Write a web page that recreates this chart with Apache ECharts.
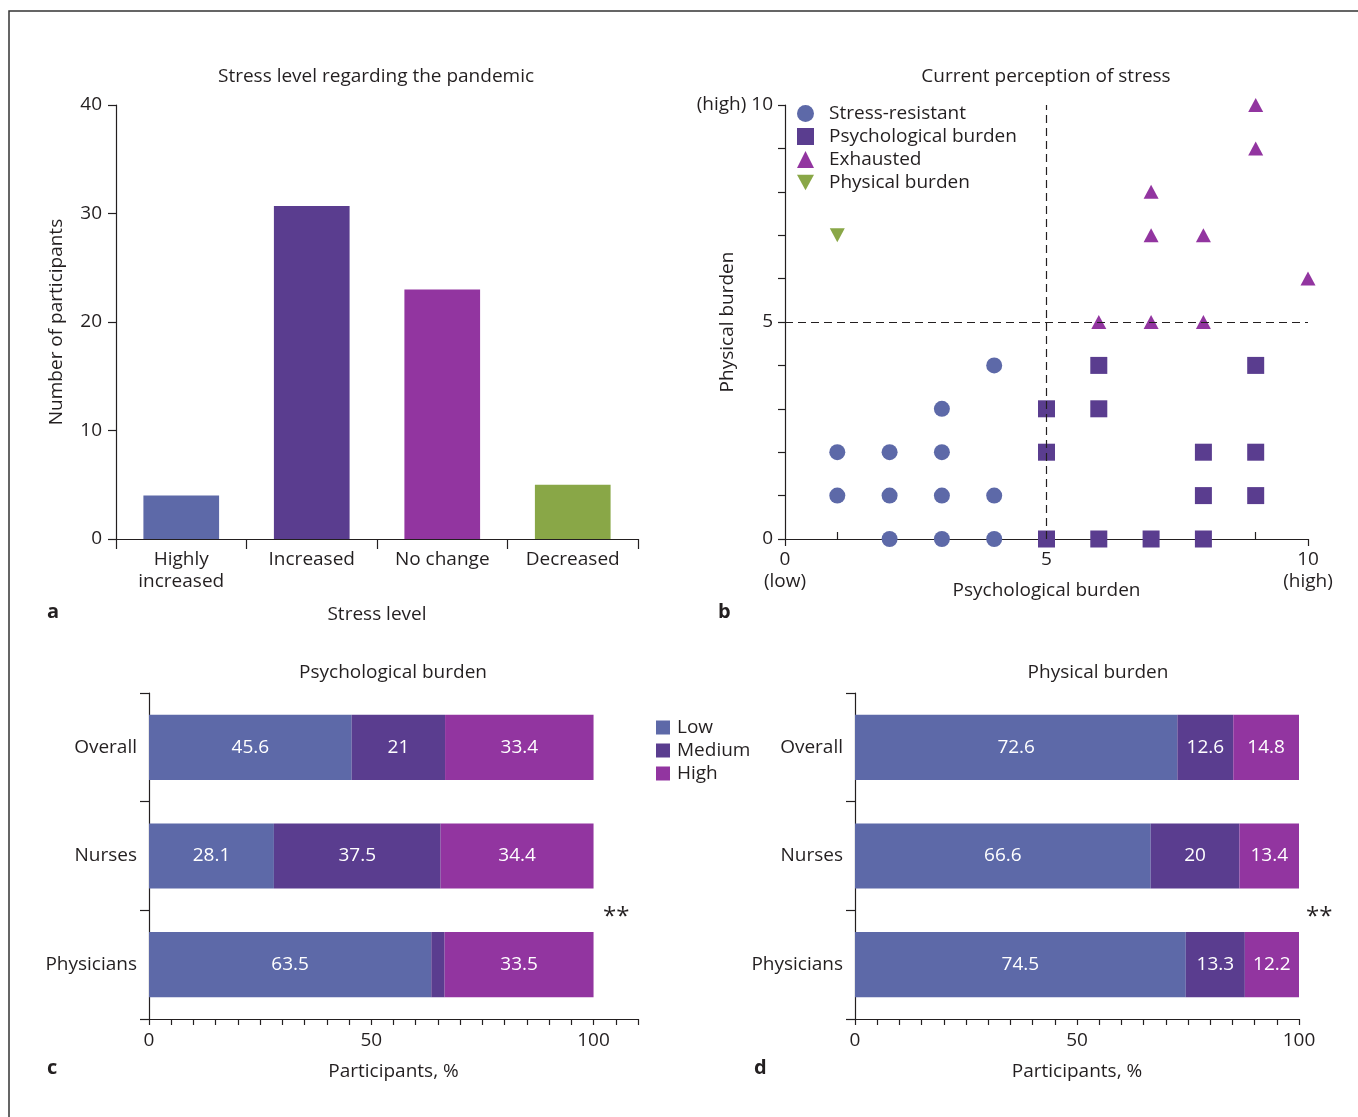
<!DOCTYPE html>
<html>
<head>
<meta charset="utf-8">
<script src="https://cdn.jsdelivr.net/npm/echarts@6/dist/echarts.min.js"></script>
<style>
html,body{margin:0;padding:0;background:#fff;}
#chart{width:1358px;height:1117px;}
</style>
</head>
<body>
<div id="chart"></div>
<script>
// ---- Data ----
const stressCats = ['Highly\nincreased', 'Increased', 'No change', 'Decreased'];
const stressCounts = [4, 30.7, 23, 5];

const stressResistant = [[1,2],[1,1],[2,2],[2,1],[2,0],[3,3],[3,2],[3,1],[3,0],[4,4],[4,1],[4,0]];
const psychBurdenPts = [[5,3],[5,2],[5,0],[6,4],[6,3],[6,0],[7,0],[8,2],[8,1],[8,0],[9,4],[9,2],[9,1]];
const exhaustedPts = [[9,10],[9,9],[7,8],[7,7],[8,7],[10,6],[6,5],[7,5],[8,5]];
const physBurdenPts = [[1,7]];

const groups = ['Overall', 'Nurses', 'Physicians'];
const psychLow = [45.6, 28.1, 63.5];
const psychMed = [21, 37.5, 3];
const psychHigh = [33.4, 34.4, 33.5];
const physLow = [72.6, 66.6, 74.5];
const physMed = [12.6, 20, 13.3];
const physHigh = [14.8, 13.4, 12.2];

// ---- Styles ----
const C_BLUE = '#5d69a8', C_PURPLE = '#5a3d8f', C_MAGENTA = '#9235a0', C_GREEN = '#89a747';
const stressColors = [C_BLUE, C_PURPLE, C_MAGENTA, C_GREEN];
const TXT = '#231f20';
const FONT = 'Open Sans';
const FS = 19;

const axisLine = {show: true, lineStyle: {color: TXT, width: 1.2}};
const tick = (len, inside) => ({show: true, length: len, inside: !!inside, lineStyle: {color: TXT, width: 1.2}});
const lbl = (extra) => Object.assign({color: TXT, fontFamily: FONT, fontSize: FS}, extra || {});
const nameStyle = {color: TXT, fontFamily: FONT, fontSize: FS};

const chart = echarts.init(document.getElementById('chart'));

function barLabel(v) { return v.value >= 5 ? String(v.value) : ''; }
const innerLabel = {show: true, position: 'inside', color: '#fff', fontFamily: FONT, fontSize: FS, formatter: barLabel};

function hbarSeries(name, data, color, xi, yi) {
  return {
    type: 'bar', name: name, data: data, stack: 'st' + xi, xAxisIndex: xi, yAxisIndex: yi,
    barWidth: '60%', itemStyle: {color: color}, label: innerLabel, emphasis: {disabled: true}
  };
}

const titleStyle = {fontWeight: 'normal', fontSize: FS, color: TXT, fontFamily: FONT};

const option = {
  animation: false,
  textStyle: {fontFamily: FONT, color: TXT},
  title: [
    {text: 'Stress level regarding the pandemic', left: 376, top: 67, textAlign: 'center', padding: 0, textStyle: titleStyle},
    {text: 'Current perception of stress', left: 1046, top: 67, textAlign: 'center', padding: 0, textStyle: titleStyle},
    {text: 'Psychological burden', left: 393, top: 663, textAlign: 'center', padding: 0, textStyle: titleStyle},
    {text: 'Physical burden', left: 1098, top: 663, textAlign: 'center', padding: 0, textStyle: titleStyle}
  ],
  legend: [
    {
      data: ['Stress-resistant', 'Psychological burden', 'Exhausted', 'Physical burden'],
      orient: 'vertical', left: 797, top: 104, padding: 0, itemGap: 4, itemWidth: 17, itemHeight: 17,
      textStyle: {color: TXT, fontFamily: FONT, fontSize: FS, padding: [0, 0, 0, 10]},
      selectedMode: false
    },
    {
      data: ['Low', 'Medium', 'High'],
      orient: 'vertical', left: 656, top: 718, padding: 0, itemGap: 4, itemWidth: 14, itemHeight: 14,
      icon: 'rect',
      textStyle: {color: TXT, fontFamily: FONT, fontSize: FS, padding: [0, 0, 0, 2]},
      selectedMode: false
    }
  ],
  grid: [
    {left: 116, width: 522, top: 105, height: 434},
    {left: 785, width: 523, top: 105, height: 434},
    {left: 149, width: 489, top: 693, height: 326},
    {left: 855, width: 444, top: 693, height: 326}
  ],
  xAxis: [
    {
      gridIndex: 0, type: 'category', data: stressCats,
      axisLine: axisLine, axisTick: tick(10),
      axisLabel: lbl({interval: 0, lineHeight: 22, margin: 10}),
      name: 'Stress level', nameLocation: 'middle', nameGap: 66, nameMoveOverlap: false, nameTextStyle: nameStyle
    },
    {
      gridIndex: 1, type: 'value', min: 0, max: 10, interval: 1, position: 'bottom',
      axisLine: axisLine, axisTick: Object.assign(tick(7), {customValues: [0, 5, 10]}),
      splitLine: {show: false},
      axisLabel: lbl({customValues: [0, 5, 10], lineHeight: 22, margin: 10,
        formatter: v => v === 0 ? '0\n(low)' : (v === 10 ? '10\n(high)' : String(v))}),
      name: 'Psychological burden', nameLocation: 'middle', nameGap: 42, nameMoveOverlap: false, nameTextStyle: nameStyle
    },
    {
      gridIndex: 2, type: 'value', min: 0, max: 110, interval: 5,
      axisLine: axisLine, axisTick: tick(6), splitLine: {show: false},
      axisLabel: lbl({customValues: [0, 50, 100], margin: 12}),
      name: 'Participants, %', nameLocation: 'middle', nameGap: 43, nameMoveOverlap: false, nameTextStyle: nameStyle
    },
    {
      gridIndex: 3, type: 'value', min: 0, max: 100, interval: 5,
      axisLine: axisLine, axisTick: tick(6), splitLine: {show: false},
      axisLabel: lbl({customValues: [0, 50, 100], margin: 12}),
      name: 'Participants, %', nameLocation: 'middle', nameGap: 43, nameMoveOverlap: false, nameTextStyle: nameStyle
    },
    {
      gridIndex: 1, type: 'value', min: 0, max: 10, interval: 1, position: 'bottom', offset: 0,
      axisLine: {show: false}, axisTick: Object.assign(tick(7, true), {customValues: [1, 9]}),
      axisLabel: {show: false}, splitLine: {show: false}
    }
  ],
  yAxis: [
    {
      gridIndex: 0, type: 'value', min: 0, max: 40, interval: 10,
      axisLine: axisLine, axisTick: tick(8), splitLine: {show: false},
      axisLabel: lbl({margin: 14}),
      name: 'Number of participants', nameLocation: 'middle', nameGap: 50, nameMoveOverlap: false, nameTextStyle: nameStyle
    },
    {
      gridIndex: 1, type: 'value', min: 0, max: 10, interval: 1,
      axisLine: axisLine, axisTick: tick(7), splitLine: {show: false},
      axisLabel: lbl({customValues: [0, 5, 10], margin: 12,
        formatter: v => v === 10 ? '(high) 10' : String(v)}),
      name: 'Physical burden', nameLocation: 'middle', nameGap: 48, nameMoveOverlap: false, nameTextStyle: nameStyle
    },
    {
      gridIndex: 2, type: 'category', data: groups, inverse: true,
      axisLine: axisLine, axisTick: tick(9), axisLabel: lbl({margin: 12})
    },
    {
      gridIndex: 3, type: 'category', data: groups, inverse: true,
      axisLine: axisLine, axisTick: tick(9), axisLabel: lbl({margin: 12})
    }
  ],
  series: [
    {
      type: 'bar', xAxisIndex: 0, yAxisIndex: 0, barWidth: '58%',
      data: stressCounts.map((v, i) => ({value: v, itemStyle: {color: stressColors[i]}})),
      emphasis: {disabled: true}
    },
    {
      type: 'scatter', name: 'Stress-resistant', xAxisIndex: 1, yAxisIndex: 1,
      symbol: 'circle', symbolSize: 16, data: stressResistant, itemStyle: {color: C_BLUE, opacity: 1},
      z: 3,
      markLine: {
        silent: true, symbol: 'none', label: {show: false},
        lineStyle: {color: TXT, type: [8, 5], width: 1.2},
        data: [{xAxis: 5}, {yAxis: 5}]
      }
    },
    {
      type: 'scatter', name: 'Psychological burden', xAxisIndex: 1, yAxisIndex: 1,
      symbol: 'rect', symbolSize: 17, data: psychBurdenPts, itemStyle: {color: C_PURPLE, opacity: 1}, z: 3
    },
    {
      type: 'scatter', name: 'Exhausted', xAxisIndex: 1, yAxisIndex: 1,
      symbol: 'triangle', symbolSize: [15, 14], data: exhaustedPts, itemStyle: {color: C_MAGENTA, opacity: 1}, z: 3
    },
    {
      type: 'scatter', name: 'Physical burden', xAxisIndex: 1, yAxisIndex: 1,
      symbol: 'path://M0,0 L10,0 L5,9 Z', symbolSize: [15, 14], data: physBurdenPts, itemStyle: {color: C_GREEN, opacity: 1}, z: 3
    },
    hbarSeries('Low', psychLow, C_BLUE, 2, 2),
    hbarSeries('Medium', psychMed, C_PURPLE, 2, 2),
    hbarSeries('High', psychHigh, C_MAGENTA, 2, 2),
    hbarSeries('Low', physLow, C_BLUE, 3, 3),
    hbarSeries('Medium', physMed, C_PURPLE, 3, 3),
    hbarSeries('High', physHigh, C_MAGENTA, 3, 3)
  ],
  graphic: [
    {type: 'polyline', silent: true, shape: {points: [[9, 1117], [9, 11], [1358, 11]]}, style: {stroke: '#333', lineWidth: 1.5, fill: null}},
    {type: 'text', left: 47, top: 602, style: {text: 'a', font: 'bold 20px "Open Sans"', fill: TXT}},
    {type: 'text', left: 718, top: 602, style: {text: 'b', font: 'bold 20px "Open Sans"', fill: TXT}},
    {type: 'text', left: 47, top: 1058, style: {text: 'c', font: 'bold 20px "Open Sans"', fill: TXT}},
    {type: 'text', left: 754, top: 1058, style: {text: 'd', font: 'bold 20px "Open Sans"', fill: TXT}},
    {type: 'text', left: 603, top: 905, style: {text: '**', font: '24px "Open Sans"', fill: TXT}},
    {type: 'text', left: 1306, top: 905, style: {text: '**', font: '24px "Open Sans"', fill: TXT}}
  ]
};
chart.setOption(option);
</script>
</body>
</html>
